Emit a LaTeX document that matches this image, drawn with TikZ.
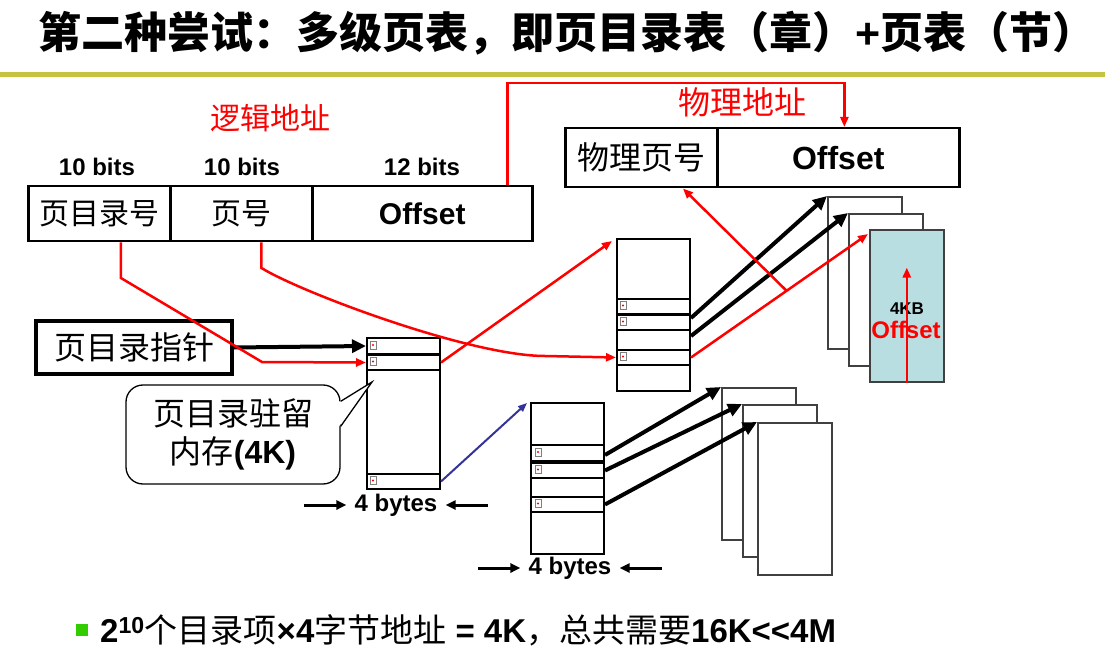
\documentclass[tikz,border=0pt]{standalone}
\usepackage{fontspec}
\setmainfont{Liberation Sans}
\newfontfamily\cjk{Noto Sans CJK SC}
\usetikzlibrary{arrows.meta,calc}
\definecolor{olivec}{RGB}{196,196,64}
\definecolor{redc}{RGB}{255,0,0}
\definecolor{bluec}{RGB}{51,51,153}
\definecolor{cyanc}{RGB}{185,222,225}
\definecolor{greenc}{RGB}{51,204,0}
\definecolor{pagegray}{RGB}{64,64,64}
\newcommand{\fsz}[1]{\fontsize{#1}{#1}\selectfont}
\begin{document}
\begin{tikzpicture}[x=1pt,y=-1pt,
  box/.style={draw, line width=2.5pt, anchor=north west, inner sep=0pt},
  bitlbl/.style={inner sep=0pt, font=\fsz{24}\bfseries},
  tbl/.style={draw, line width=1.6pt, anchor=north west, inner sep=0pt, minimum width=73},
  tabrow/.style={draw, line width=2pt, anchor=north west, inner sep=0pt, minimum width=73},
  pagebox/.style={draw=pagegray, line width=1.6pt, fill=white, anchor=north west, inner sep=0pt, minimum width=74, minimum height=152},
  icon/.style={draw=gray, line width=0.7pt, minimum width=6, minimum height=8, inner sep=0pt,
    path picture={\fill[redc] (path picture bounding box.center) circle (1.1pt);}},
  redarrow/.style={draw=redc, line width=2.5pt, -{Triangle[length=10pt,width=8pt]}},
  redln/.style={draw=redc, line width=2.5pt},
  blkarrow/.style={draw=black, line width=4pt, -{Triangle[length=14pt,width=13pt]}},
  smallarr/.style={draw=black, line width=3pt, -{Triangle[length=10pt,width=9pt]}},
  bluearrow/.style={draw=bluec, line width=2pt, -{Triangle[length=9pt,width=7pt]}}]
\useasboundingbox (0,0) rectangle (1105,652);
\fill[white] (0,0) rectangle (1105,652);

% title
\node[anchor=west, inner sep=0pt] (title) at (38,33) {\fsz{43}\cjk\bfseries 第二种尝试：多级页表，即页目录表（章）{\rmfamily\bfseries +}页表（节）};
\draw[line width=5pt, olivec] (0,75) -- (1105,75);

% logical address
\node[redc, inner sep=0pt] (lalbl) at (270,118) {\fsz{30}\cjk 逻辑地址};
\node[bitlbl] (b1) at (97,167) {10 bits};
\node[bitlbl] (b2) at (242,167) {10 bits};
\node[bitlbl] (b3) at (422,167) {12 bits};
\node[box, minimum width=142, minimum height=55] (la1) at (27,185) {\fsz{30}\cjk 页目录号};
\node[box, minimum width=142, minimum height=55] (la2) at (169,185) {\fsz{30}\cjk 页号};
\node[box, minimum width=220, minimum height=55] (la3) at (311,185) {\fsz{30}\bfseries Offset};

% physical address
\node[redc, inner sep=0pt] (palbl) at (742,102) {\fsz{32}\cjk 物理地址};
\node[box, minimum width=152, minimum height=59] (pa1) at (564,127) {\fsz{32}\cjk 物理页号};
\node[box, minimum width=242, minimum height=59] (pa2) at (716,127) {\fsz{32}\bfseries Offset};

\coordinate (r0) at ($(la3.north west)!0.882!(la3.north east)$);
\coordinate (r1) at ($(pa2.north west)!0.525!(pa2.north east)$);
\draw[redarrow] (r0) -- (r0 |- 0,83) -- (r1 |- 0,83) -- (r1);

% page directory pointer
\node[draw, line width=4pt, minimum width=196, minimum height=53, inner sep=0pt] (ptr) at (134,347.5) {\fsz{32}\cjk 页目录指针};

% page directory table
\node[tbl, minimum height=151] (dt) at (366,337) {};
\node[tabrow, minimum height=16] (d1) at (366,337) {};
\node[tabrow, minimum height=15] (d2) at (366,354) {};
\node[tabrow, minimum height=15] (d3) at (366,473) {};
\node[icon] (di1) at (373,345) {};
\node[icon] (di2) at (373,361.5) {};
\node[icon] (di3) at (373,480.5) {};

% bubble
\node[draw, line width=1.3pt, rounded corners=17, minimum width=214, minimum height=99, align=center, inner sep=0pt] (bub) at (233,434.5) {\fsz{32}\cjk 页目录驻留\\[8pt]\fsz{32}\cjk 内存{\rmfamily\bfseries (4K)}};
\fill[white] (338.5,402) -- (372,382) -- (338.5,427) -- cycle;
\draw[line width=1.3pt] ($(bub.north east)+(0,17)$) -- (372,382) -- ($(bub.north east)+(0,42)$);

% level-2 table 1
\node[tbl, minimum height=152] (t1) at (616,238) {};
\node[tabrow, minimum height=15] (t1a) at (616,298) {};
\node[tabrow, minimum height=15] (t1b) at (616,314) {};
\node[tabrow, minimum height=15] (t1c) at (616,349) {};
\node[icon] (ti1) at (623,305.5) {};
\node[icon] (ti2) at (623,321.5) {};
\node[icon] (ti3) at (623,356.5) {};

% level-2 table 2
\node[tbl, minimum height=151] (t2) at (530,402) {};
\node[tabrow, minimum height=16] (s1) at (530,444) {};
\node[tabrow, minimum height=15] (s2) at (530,462) {};
\node[tabrow, minimum height=15] (s3) at (530,496) {};
\node[icon] (si1) at (538,452) {};
\node[icon] (si2) at (538,469.5) {};
\node[icon] (si3) at (538,503.5) {};

% page stacks
\node[pagebox] (p1) at (827,196) {};
\node[pagebox] (p2) at (848,213) {};
\node[pagebox, fill=cyanc] (p3) at (869,229) {};
\node[inner sep=0pt] (kb) at (907,309) {\fsz{17}\bfseries 4KB};
\node[inner sep=0pt, redc] (offl) at (906,330) {\fsz{24}\bfseries Offset};
\coordinate (ob) at ($(p3.south west)!0.5!(p3.south east)$);
\draw[redarrow] (ob) -- ++(0,-115);

\node[pagebox] (q1) at (721,387) {};
\node[pagebox] (q2) at (742,404) {};
\node[pagebox] (q3) at (757,422) {};

% connectors
\coordinate (c1) at ($(la1.south west)!0.65!(la1.south east)$);
\coordinate (c2) at ($(la2.south west)!0.64!(la2.south east)$);
\draw[blkarrow] (ptr.east) -- (d1.west);
\draw[redarrow] (c1) -- (c1 |- 0,278) -- (262,362) -- (d2.west);
\draw[redarrow] (c2) -- (c2 |- 0,268) .. controls (300,292) and (470,356) .. (545,356) -- (t1c.west);
\draw[redarrow] (d2.east) -- ($(t1.north west)+(-4,3)$);
\draw[bluearrow] (d3.east) -- ($(t2.north west)+(-3,1)$);

\draw[blkarrow] ($(t1b.north east)+(0,4)$) -- (p1.north west);
\draw[blkarrow] ($(t1b.south east)+(0,5)$) -- (p2.north west);
\coordinate (rs) at (t1c.east);
\coordinate (rt) at ($(p3.north west)+(-1,5)$);
\draw[redarrow] (rs) -- (rt);
\coordinate (rm) at ($(rs)!0.54!(rt)$);
\draw[redarrow] (rm) -- ($(pa1.south west)!0.77!(pa1.south east)$);

\draw[blkarrow] ($(s1.east)+(0,2)$) -- (q1.north west);
\draw[blkarrow] (s2.east) -- (q2.north west);
\draw[blkarrow] (s3.east) -- (q3.north west);

% 4 bytes labels
\node[inner sep=0pt] (by1) at (396,505) {\fsz{24}\bfseries 4 bytes};
\draw[smallarr] ($(by1.west)+(-50,0)$) -- ($(by1.west)+(-8,0)$);
\draw[smallarr] ($(by1.east)+(50,0)$) -- ($(by1.east)+(8,0)$);
\node[inner sep=0pt] (by2) at (570,568) {\fsz{24}\bfseries 4 bytes};
\draw[smallarr] ($(by2.west)+(-50,0)$) -- ($(by2.west)+(-8,0)$);
\draw[smallarr] ($(by2.east)+(50,0)$) -- ($(by2.east)+(8,0)$);

% footer
\node[fill=greenc, minimum size=12, inner sep=0pt] (bul) at (82,630) {};
\node[anchor=west, inner sep=0pt] (foot) at (100,630) {\fsz{33}\bfseries 2\textsuperscript{10}{\cjk\mdseries 个目录项}×4{\cjk\mdseries 字节地址} = 4K{\cjk\mdseries ，总共需要}16K<\kern0pt<4M};
\end{tikzpicture}
\end{document}
